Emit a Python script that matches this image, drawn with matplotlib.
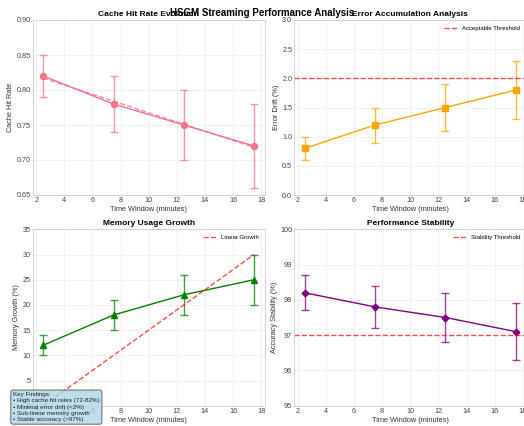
import numpy as np
import matplotlib
matplotlib.use("Agg")
from matplotlib import pyplot as plt

# data
time_windows = [2.5, 7.5, 12.5, 17.5]
cache_hit = [0.82, 0.78, 0.75, 0.72]
cache_err = [0.03, 0.04, 0.05, 0.06]
error_drift = [0.8, 1.2, 1.5, 1.8]
drift_err = [0.2, 0.3, 0.4, 0.5]
memory_growth = [12, 18, 22, 25]
memory_err = [2, 3, 4, 5]
linear_growth = [0, 10, 20, 30]
accuracy = [98.2, 97.8, 97.5, 97.1]
accuracy_err = [0.5, 0.6, 0.7, 0.8]
drift_threshold = 2.0
stability_threshold = 97.0

plt.rcParams['font.family'] = ['Liberation Sans', 'DejaVu Sans']
plt.rcParams['axes.edgecolor'] = '#cccccc'
plt.rcParams['axes.linewidth'] = 0.6
plt.rcParams['grid.color'] = '#ebebeb'
plt.rcParams['grid.linewidth'] = 0.5
plt.rcParams['xtick.labelsize'] = 5.2
plt.rcParams['ytick.labelsize'] = 5.2
plt.rcParams['xtick.color'] = '#444444'
plt.rcParams['ytick.color'] = '#444444'
plt.rcParams['xtick.major.size'] = 0
plt.rcParams['ytick.major.size'] = 0
plt.rcParams['xtick.major.pad'] = 1.5
plt.rcParams['ytick.major.pad'] = 1.5
plt.rcParams['axes.labelsize'] = 5.3
plt.rcParams['axes.labelcolor'] = '#333333'
plt.rcParams['axes.labelpad'] = 1.5

fig = plt.figure(figsize=(5.24, 4.26), dpi=100)
W, H = 524.0, 426.0

def box(left, top, right, bottom):
    return [left / W, 1 - bottom / H, (right - left) / W, (bottom - top) / H]

ax1 = fig.add_axes(box(32.7, 20, 264.7, 195))
ax2 = fig.add_axes(box(294.3, 20, 526.3, 195))
ax3 = fig.add_axes(box(32.7, 229.3, 264.7, 405.7))
ax4 = fig.add_axes(box(294.3, 229.3, 526.3, 405.7))

pink = '#f77189'
lw = 1.0
ms = 4.3
cs = 2.6

def draw(ax, y, err, color, marker, msize=ms):
    ax.errorbar(time_windows, y, yerr=err, fmt='none', ecolor=color,
                elinewidth=lw, capsize=cs, capthick=lw, alpha=0.75)
    ax.plot(time_windows, y, color=color, marker=marker, linewidth=lw,
            markersize=msize)

for ax in (ax1, ax2, ax3, ax4):
    ax.set_facecolor('white')
    ax.grid(True)
    ax.set_axisbelow(True)
    ax.set_xlabel('Time Window (minutes)')

# cache hit rate
draw(ax1, cache_hit, cache_err, pink, 'o')
coef = np.polyfit(time_windows, cache_hit, 1)
ax1.plot(time_windows, np.polyval(coef, time_windows), '--', color=pink,
         linewidth=lw, alpha=0.8)
ax1.set_ylim(0.65, 0.90)
ax1.set_ylabel('Cache Hit Rate')
ax1.set_title('Cache Hit Rate Evolution', fontsize=6, fontweight='bold', pad=3)

# error drift
draw(ax2, error_drift, drift_err, 'orange', 's')
ax2.axhline(drift_threshold, color='red', linestyle='--', linewidth=lw,
            alpha=0.7, label='Acceptable Threshold')
ax2.set_ylim(0, 3)
ax2.set_ylabel('Error Drift (%)')
ax2.set_title('Error Accumulation Analysis', fontsize=6, fontweight='bold', pad=3)

# memory growth
draw(ax3, memory_growth, memory_err, 'green', '^')
ax3.plot(time_windows, linear_growth, '--', color='red', linewidth=lw,
         alpha=0.7, label='Linear Growth')
ax3.set_ylim(0, 35)
ax3.set_ylabel('Memory Growth (%)')
ax3.set_title('Memory Usage Growth', fontsize=6, fontweight='bold', pad=3)

# stability
draw(ax4, accuracy, accuracy_err, 'purple', 'D', msize=3.4)
ax4.axhline(stability_threshold, color='red', linestyle='--', linewidth=lw,
            alpha=0.7, label='Stability Threshold')
ax4.set_ylim(95, 100)
ax4.set_ylabel('Accuracy Stability (%)')
ax4.set_title('Performance Stability', fontsize=6, fontweight='bold', pad=3)

for ax in (ax2, ax3, ax4):
    ax.legend(loc='upper right', frameon=False, fontsize=4.3,
              handlelength=2.2, borderaxespad=0.6)

fig.text(0.5, 1 - 13 / H, 'HSGM Streaming Performance Analysis',
         ha='center', va='center', fontsize=7, fontweight='bold')

fig.text(13 / W, 4 / H,
         'Key Findings:\n• High cache hit rates (72-82%)\n• Minimal error drift (<2%)\n'
         '• Sub-linear memory growth\n• Stable accuracy (>97%)',
         ha='left', va='bottom', fontsize=4.5, color='#222222', linespacing=1.3,
         bbox=dict(boxstyle='round,pad=0.35', facecolor='lightblue', alpha=0.8,
                   edgecolor='#444444', linewidth=0.7), zorder=10)

fig.savefig('out.png', dpi=100)
